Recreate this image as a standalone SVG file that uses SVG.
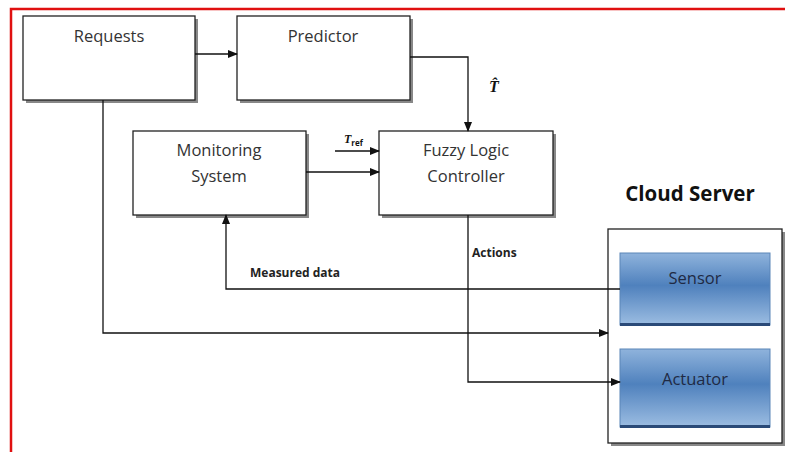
<svg xmlns="http://www.w3.org/2000/svg" width="785" height="452" viewBox="0 0 785 452">
<style>
.box{fill:#fff;stroke:#222;stroke-width:1.3}
.sh{fill:#555;opacity:0.7}
.lbl{font-family:"Open Sans","Noto Sans",sans-serif;font-size:16.5px;fill:#333;text-anchor:middle}
.blbl{font-family:"Open Sans","Noto Sans",sans-serif;font-size:16.5px;fill:#1f2a44;text-anchor:middle}
.small{font-family:"Open Sans","Noto Sans",sans-serif;font-size:12px;font-weight:bold;fill:#222}
.ln{fill:none;stroke:#111;stroke-width:1.3}
.blue{fill:url(#bg);stroke:#5b85b8;stroke-width:1}
</style>
<defs>
<marker id="ar" markerWidth="10" markerHeight="8" refX="9" refY="4" orient="auto" markerUnits="userSpaceOnUse">
<path d="M0,0 L10,4 L0,8 z" fill="#111"/>
</marker>
<linearGradient id="bg" x1="0" y1="0" x2="0" y2="1">
<stop offset="0" stop-color="#8fb3dc"/>
<stop offset="0.45" stop-color="#4f81bd"/>
<stop offset="1" stop-color="#9cbde2"/>
</linearGradient>
</defs>
<rect x="0" y="0" width="785" height="452" fill="#fff"/>
<path d="M11,452 V9 H785" fill="none" stroke="#e01010" stroke-width="2.5"/>

<g id="requests">
<rect class="sh" x="26" y="19" width="172" height="84"/>
<rect class="box" x="23" y="16" width="172" height="84"/>
<text class="lbl" x="109" y="42">Requests</text>
</g>
<g id="predictor">
<rect class="sh" x="240" y="19" width="173" height="84"/>
<rect class="box" x="237" y="16" width="173" height="84"/>
<text class="lbl" x="323" y="42">Predictor</text>
</g>
<g id="monitoring">
<rect class="sh" x="136" y="134" width="173" height="84"/>
<rect class="box" x="133" y="131" width="173" height="84"/>
<text class="lbl" x="219" y="156">Monitoring</text>
<text class="lbl" x="219" y="182">System</text>
</g>
<g id="fuzzy">
<rect class="sh" x="382" y="134" width="174" height="84"/>
<rect class="box" x="379" y="131" width="174" height="84"/>
<text class="lbl" x="466" y="156">Fuzzy Logic</text>
<text class="lbl" x="466" y="182">Controller</text>
</g>
<g id="cloud">
<text x="690" y="201" font-family="'Open Sans','Noto Sans',sans-serif" font-size="20.5" font-weight="bold" fill="#111" text-anchor="middle">Cloud Server</text>
<rect class="sh" x="611" y="232" width="174" height="214"/>
<rect class="box" x="608" y="229" width="174" height="214"/>
</g>
<g id="sensor">
<rect class="blue" x="620" y="253" width="150" height="72"/>
<rect x="620" y="323" width="150" height="3" fill="#2a4a78"/>
<text class="blbl" x="695" y="284">Sensor</text>
</g>
<g id="actuator">
<rect class="blue" x="620" y="349" width="150" height="78"/>
<rect x="620" y="425" width="150" height="3" fill="#2a4a78"/>
<text class="blbl" x="695" y="385">Actuator</text>
</g>

<g id="connectors">
<path class="ln" d="M195,54 H237" marker-end="url(#ar)"/>
<path class="ln" d="M410,57 H468 V131" marker-end="url(#ar)"/>
<path class="ln" d="M335,151 H379" marker-end="url(#ar)"/>
<path class="ln" d="M306,172 H379" marker-end="url(#ar)"/>
<path class="ln" d="M620,289 H226 V215" marker-end="url(#ar)"/>
<path class="ln" d="M103,100 V333 H608" marker-end="url(#ar)"/>
<path class="ln" d="M468,215 V382 H620" marker-end="url(#ar)"/>
</g>
<g id="labels">
<text x="489" y="92" font-family="'Liberation Serif',serif" font-size="16" font-style="italic" font-weight="bold" fill="#111">T̂</text>
<text x="344" y="143" font-family="'Liberation Serif',serif" font-size="12" font-style="italic" font-weight="bold" fill="#111">T<tspan font-family="'Open Sans',sans-serif" font-size="8" font-style="normal" dy="3">ref</tspan></text>
<text class="small" x="250" y="277">Measured data</text>
<text class="small" x="472" y="257">Actions</text>
</g>
</svg>
